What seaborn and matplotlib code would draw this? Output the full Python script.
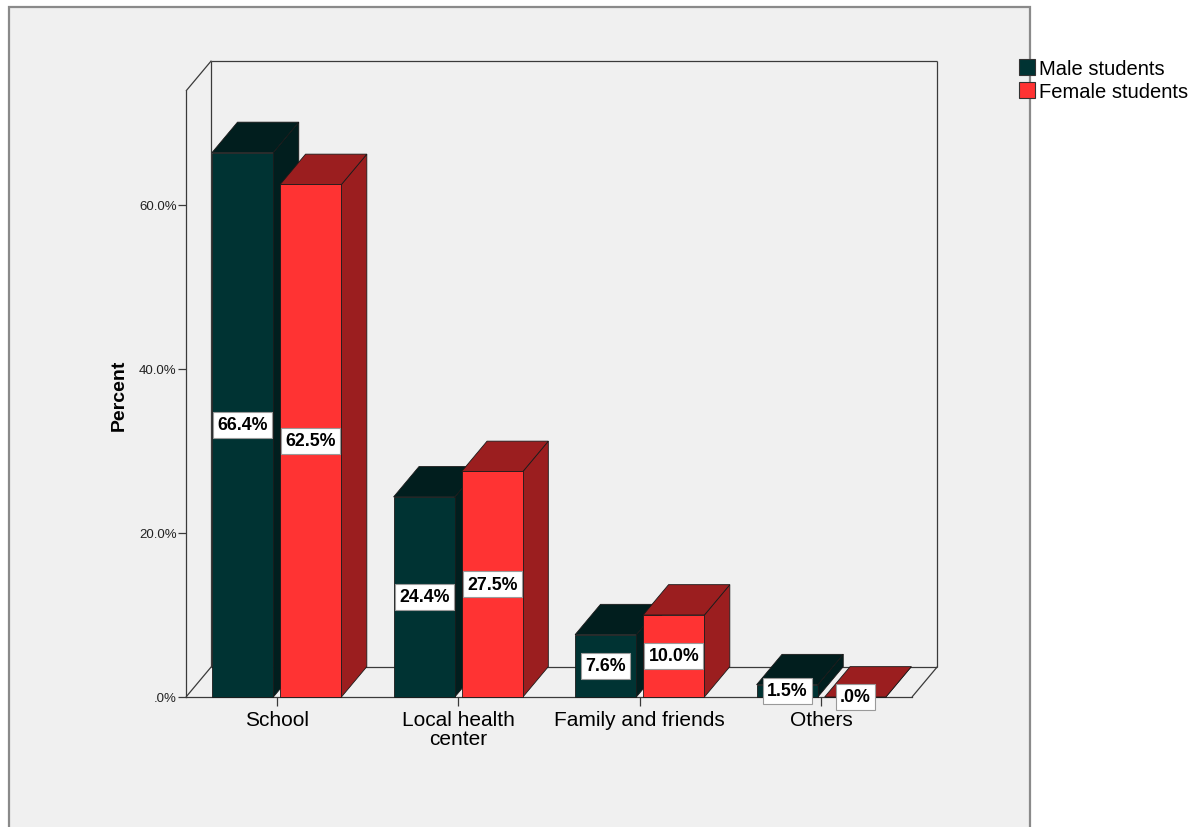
import matplotlib
matplotlib.use("Agg")
import matplotlib.pyplot as plt
import numpy as np
import pandas as pd
import seaborn as sns
from matplotlib.patches import Polygon, Rectangle

# ---- data -------------------------------------------------------------
categories = ["School", "Local health\ncenter", "Family and friends", "Others"]
groups = ["Male students", "Female students"]
male_pct = [66.4, 24.4, 7.6, 1.5]
female_pct = [62.5, 27.5, 10.0, 0.0]
y_ticks = [0, 20, 40, 60]
y_tick_labels = [".0%", "20.0%", "40.0%", "60.0%"]

front_colors = {"Male students": "#003333", "Female students": "#FF3333"}
shade_colors = {"Male students": "#011E1E", "Female students": "#9B1E1F"}

df = pd.DataFrame({
    "Source": categories * 2,
    "Group": [groups[0]] * len(categories) + [groups[1]] * len(categories),
    "Percent": male_pct + female_pct,
})

sns.set_theme(style="white")
plt.rcParams["font.family"] = ["Liberation Sans", "DejaVu Sans"]

W, H = 1203, 828
fig = plt.figure(figsize=(W / 100, H / 100), dpi=100, facecolor="white")

# grey chart panel with its frame
fig.patches.append(Rectangle((8.5 / W, -0.02), (1030 - 8.5) / W, (H - 8) / H + 0.02,
                             transform=fig.transFigure, facecolor="#F0F0F0",
                             edgecolor="#8A8A8A", lw=1.6, zorder=-10))

ax = fig.add_axes([186 / W, (H - 698) / H, 726 / W, 606 / H])
ax.set_facecolor("none")

sns.barplot(data=df, x="Source", y="Percent", hue="Group", hue_order=groups,
            palette=front_colors, width=0.75, gap=0.1, saturation=1,
            errorbar=None, edgecolor="#1A1A1A", linewidth=0.6, ax=ax)

YTOP = 73.9
ax.set_xlim(-0.5, 3.5)
ax.set_ylim(0, YTOP)

# depth of the pseudo-3D projection (data units)
DX = 0.140
DY = 3.70

line_kw = dict(color="#3A3A3A", lw=0.9, clip_on=False, zorder=1,
               solid_capstyle="butt")
x_l, x_r = -0.5, 3.5
segments = [
    ((x_l, x_l + DX), (0, DY)),
    ((x_r, x_r + DX), (0, DY)),
    ((x_l + DX, x_r + DX), (DY, DY)),
    ((x_l + DX, x_l + DX), (DY, YTOP + DY)),
    ((x_l + DX, x_r + DX), (YTOP + DY, YTOP + DY)),
    ((x_r + DX, x_r + DX), (DY, YTOP + DY)),
    ((x_l, x_l + DX), (YTOP, YTOP + DY)),
]
for xs, ys in segments:
    ax.plot(xs, ys, **line_kw)

# side and top faces for each bar, plus value labels
bars = []
for container, grp in zip(ax.containers, groups):
    for bar in container:
        bars.append((bar, grp))
bars.sort(key=lambda b: b[0].get_x())

for rank, (bar, grp) in enumerate(bars):
    x0, w, h = bar.get_x(), bar.get_width(), bar.get_height()
    z = 3 + rank * 0.1
    shade = shade_colors[grp]
    side = Polygon([(x0 + w, 0), (x0 + w + DX, DY), (x0 + w + DX, h + DY), (x0 + w, h)],
                   closed=True, facecolor=shade, edgecolor="#1A1A1A", lw=0.6,
                   zorder=z, clip_on=False)
    top = Polygon([(x0, h), (x0 + w, h), (x0 + w + DX, h + DY), (x0 + DX, h + DY)],
                  closed=True, facecolor=shade, edgecolor="#1A1A1A", lw=0.6,
                  zorder=z + 0.01, clip_on=False)
    ax.add_patch(side)
    ax.add_patch(top)
    bar.set_zorder(z + 0.05)
    bar.set_clip_on(False)

    txt = f"{h:.1f}%"
    if txt.startswith("0."):
        txt = txt[1:]
    ax.text(x0 + w / 2, h / 2, txt, ha="center", va="center", fontsize=12.8,
            fontweight="bold", color="black", zorder=20, clip_on=False,
            bbox=dict(boxstyle="square,pad=0.24", facecolor="white",
                      edgecolor="#9A9A9A", lw=0.8))

# axes styling
for s in ["top", "right"]:
    ax.spines[s].set_visible(False)
for s in ["left", "bottom"]:
    ax.spines[s].set_color("#3A3A3A")
    ax.spines[s].set_linewidth(0.9)
    ax.spines[s].set_zorder(2)

ax.set_yticks(y_ticks)
ax.set_yticklabels(y_tick_labels)
ax.tick_params(axis="y", left=True, direction="out", length=5.8, width=0.9,
               color="#3A3A3A", labelsize=9.5, pad=1, labelcolor="#222222")
ax.tick_params(axis="x", bottom=True, direction="out", length=6.5, width=0.9,
               color="#3A3A3A", labelsize=15, pad=3, labelcolor="black")
for t in ax.get_xticklabels():
    t.set_linespacing(1.0)

ax.set_xlabel("")
ax.set_ylabel("Percent", fontsize=14, fontweight="bold", color="black")
ax.yaxis.set_label_coords(-0.08, 0.5)

# legend at the upper right, outside the panel
old = ax.get_legend()
handles = old.legend_handles
labels = [t.get_text() for t in old.get_texts()]
old.remove()
for hnd in handles:
    hnd.set_edgecolor("#333333")
    hnd.set_linewidth(0.8)
leg = fig.legend(handles, labels, loc="upper left",
                 bbox_to_anchor=(1019 / W, 1 - 60 / H), bbox_transform=fig.transFigure,
                 frameon=False, fontsize=14.5, handlelength=0.8, handleheight=0.8,
                 handletextpad=0.2, borderpad=0, borderaxespad=0, labelspacing=0.2)
for t in leg.get_texts():
    t.set_color("black")

fig.savefig("out.png", dpi=100, facecolor="white")
